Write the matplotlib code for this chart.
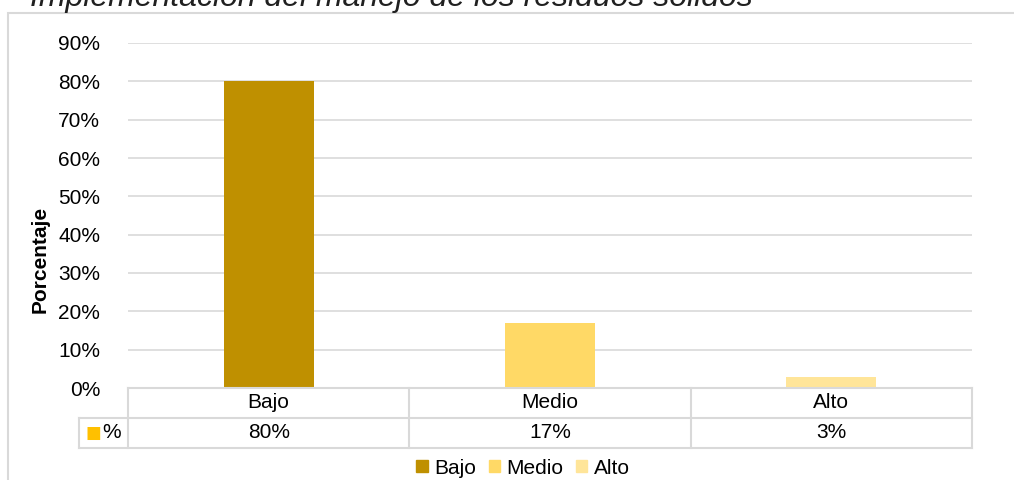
import matplotlib.pyplot as plt
from matplotlib.patches import Rectangle
import matplotlib.transforms as mtransforms

plt.rcParams['font.family'] = ['Liberation Sans', 'DejaVu Sans']

# Niveles y porcentajes
niveles = ['Bajo', 'Medio', 'Alto']
porcentajes = [80, 17, 3]
colores = ['#BF9000', '#FFD966', '#FFE599']
ticks_y = [0, 10, 20, 30, 40, 50, 60, 70, 80, 90]

W, H = 1014, 480
FS = 15
fig = plt.figure(figsize=(W / 100, H / 100), dpi=100)

# Marco del gráfico
fig.patches.append(Rectangle((8 / W, -0.1), 1.2, 1 - 12.5 / H + 0.1, transform=fig.transFigure,
                             facecolor='white', edgecolor='#D9D9D9', linewidth=1.5, zorder=-5))

fig.text(30 / W, 1 - 6 / H, 'Implementación del manejo de los residuos sólidos',
         fontsize=23, style='italic', ha='left', va='baseline', color='#202020')

ax = fig.add_axes([128 / W, 1 - 388 / H, (972 - 128) / W, (388 - 43) / H])
ax.set_facecolor('none')
x = list(range(len(niveles)))
ax.bar(x, porcentajes, width=0.32, color=colores, zorder=3)
ax.set_xlim(-0.5, 2.5)
ax.set_ylim(0, 90)
ax.set_yticks(ticks_y)
ax.set_yticklabels([f'{t}%' for t in ticks_y], fontsize=FS)
ax.set_xticks([])
ax.grid(axis='y', color='#D9D9D9', linewidth=1.2, zorder=0)
ax.tick_params(axis='y', length=0, pad=20)
for s in ax.spines.values():
    s.set_visible(False)

fig.text(40 / W, 1 - 259 / H, 'Porcentaje', rotation=90, fontsize=FS,
         fontweight='bold', ha='center', va='center')

# Tabla de datos bajo el eje
trans = mtransforms.blended_transform_factory(ax.transData, ax.transAxes)
row_h = 30 / 345
lc = '#D9D9D9'
kw = dict(color=lc, linewidth=1.5, clip_on=False, zorder=4)
left = -0.5 - 49 / 844 * 3
ax.plot([-0.5, 2.5], [0, 0], transform=trans, **kw)
ax.plot([left, 2.5], [-row_h, -row_h], transform=trans, **kw)
ax.plot([left, 2.5], [-2 * row_h, -2 * row_h], transform=trans, **kw)
for xv in [-0.5, 0.5, 1.5, 2.5]:
    ax.plot([xv, xv], [0, -2 * row_h], transform=trans, **kw)
ax.plot([left, left], [-row_h, -2 * row_h], transform=trans, **kw)

for i, (n, p) in enumerate(zip(niveles, porcentajes)):
    ax.text(i, -0.5 * row_h, n, transform=trans, ha='center', va='center', fontsize=FS)
    ax.text(i, -1.5 * row_h, f'{p}%', transform=trans, ha='center', va='center', fontsize=FS)

ax.text(left + 0.022, -1.5 * row_h, '■', transform=trans, ha='left', va='center',
        fontsize=12, color='#FFC000', family=['DejaVu Sans'])
ax.text(left + 0.083, -1.5 * row_h, '%', transform=trans, ha='left', va='center', fontsize=FS)

# Leyenda
handles = [Rectangle((0, 0), 1, 1, color=c) for c in colores]
fig.legend(handles, niveles, loc='center', bbox_to_anchor=(523 / W, 1 - 468 / H), ncol=3,
           frameon=False, fontsize=FS, handlelength=0.55, handleheight=0.55,
           handletextpad=0.3, columnspacing=0.6)

fig.savefig('out.png', dpi=100)
